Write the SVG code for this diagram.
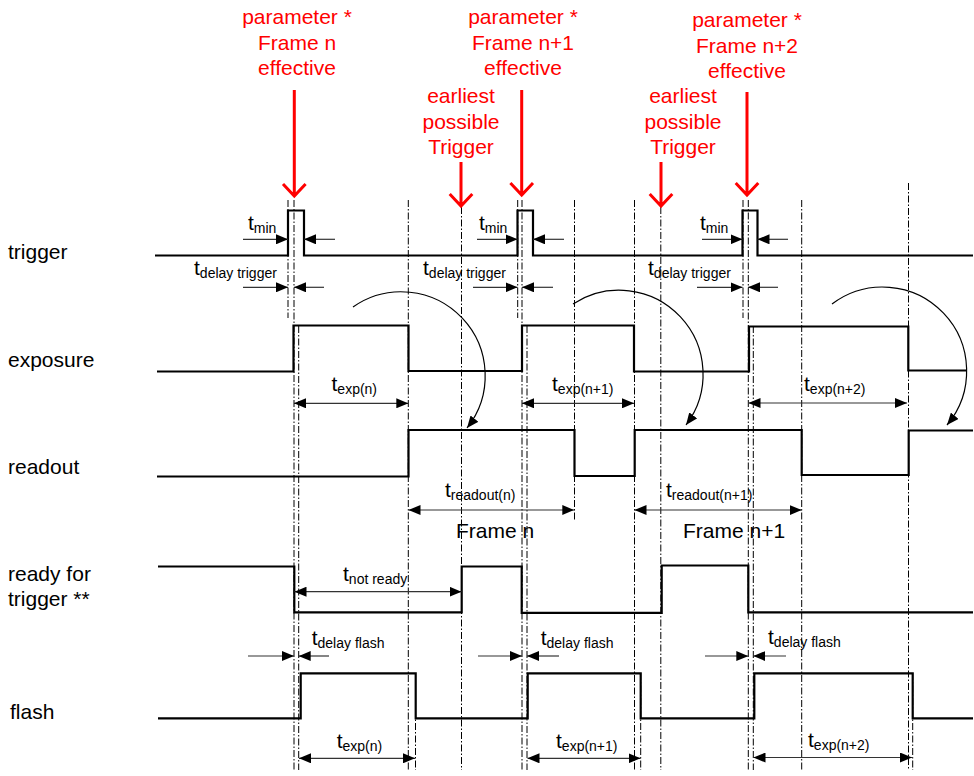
<svg xmlns="http://www.w3.org/2000/svg" width="974" height="776" viewBox="0 0 974 776">
<style>
text{font-family:"Liberation Sans",Arial,Helvetica,sans-serif;fill:#000}
.lbl{font-size:21px}
.red{font-size:21px;fill:#ff0000;text-anchor:middle}
.sub{font-size:14px}
.sig{fill:none;stroke:#000;stroke-width:2.2;stroke-linejoin:miter}
.dd{fill:none;stroke:#000;stroke-width:1;stroke-dasharray:7 2 1.5 2}
.dim{fill:none;stroke:#333;stroke-width:1.2}
.arc{fill:none;stroke:#000;stroke-width:1.2}
.ra{fill:none;stroke:#ff0000;stroke-width:3}
</style>
<defs>
<marker id="ah" viewBox="0 0 12 10" refX="12" refY="5" markerWidth="12" markerHeight="10" markerUnits="userSpaceOnUse" orient="auto-start-reverse">
<path d="M0,0 L12,5 L0,10 z" fill="#000"/>
</marker>
</defs>
<rect width="974" height="776" fill="#fff"/>

<g id="guides">
<path class="dd" d="M288,200V318 M294,200V770 M298.7,326V770 M408.3,200V770 M415.5,673V770 M461.5,207V770 M517.7,200V318 M522,200V770 M527,326V770 M574.5,200V520 M634.5,200V770 M640.7,673V770 M660.8,207V770 M743,200V318 M748.3,200V770 M753.3,326V770 M801.7,200V770 M908.5,183V770 M912.7,673V770"/>
</g>

<g id="labels-left">
<text class="lbl" x="8" y="259">trigger</text>
<text class="lbl" x="8" y="367">exposure</text>
<text class="lbl" x="8" y="474">readout</text>
<text class="lbl" x="8" y="581">ready for</text>
<text class="lbl" x="8" y="606">trigger **</text>
<text class="lbl" x="10" y="719">flash</text>
</g>

<g id="signal-trigger"><path class="sig" d="M155,255.5H288V210.5H304V255.5H517.5V210.5H533V255.5H742.5V210.5H757.5V255.5H973"/></g>
<g id="signal-exposure"><path class="sig" d="M157,371.5H293.5V325.5H408.5V371H522V325.5H634V371.5H749V326.5H908.3V370.5H967"/></g>
<g id="signal-readout"><path class="sig" d="M157,476.5H408.5V430H574.5V476H634.7V430H801.7V475H908.7V430.5H973"/></g>
<g id="signal-ready"><path class="sig" d="M158,566.5H294.3V612.3H461.7V566.5H521.7V612.8H661.7V565.5H748.3V612.3H973"/></g>
<g id="signal-flash"><path class="sig" d="M158,718.3H300.7V673.3H415.7V718.3H527.7V673.3H640.7V718.3H754.3V673.3H912.7V718.3H973"/></g>

<g id="red-annotations">
<text class="red" x="297" y="24">parameter *</text>
<text class="red" x="297" y="49.5">Frame n</text>
<text class="red" x="297" y="74.5">effective</text>
<text class="red" x="523" y="24">parameter *</text>
<text class="red" x="523" y="49.5">Frame n+1</text>
<text class="red" x="523" y="74.5">effective</text>
<text class="red" x="747" y="27">parameter *</text>
<text class="red" x="747" y="52.5">Frame n+2</text>
<text class="red" x="747" y="77.5">effective</text>
<text class="red" x="461" y="103">earliest</text>
<text class="red" x="461" y="128.5">possible</text>
<text class="red" x="461" y="154">Trigger</text>
<text class="red" x="683" y="103">earliest</text>
<text class="red" x="683" y="128.5">possible</text>
<text class="red" x="683" y="154">Trigger</text>
<path class="ra" d="M294.3,90V196 M283,184L294.3,196L305.6,184"/>
<path class="ra" d="M521.7,90V195 M510.4,183L521.7,195L533,183"/>
<path class="ra" d="M747,92V195 M735.7,183L747,195L758.3,183"/>
<path class="ra" d="M461,162V206 M449.7,194L461,206L472.3,194"/>
<path class="ra" d="M661,162V206 M649.7,194L661,206L672.3,194"/>
</g>

<g id="connectors">
<path class="arc" d="M353,307A84,84 0 0 1 467,428" marker-end="url(#ah)"/>
<path class="arc" d="M573,304A84,84 0 0 1 686,425" marker-end="url(#ah)"/>
<path class="arc" d="M832,304A84,84 0 0 1 947,425" marker-end="url(#ah)"/>

<path class="dim" d="M243,239.3H288" marker-end="url(#ah)"/>
<path class="dim" d="M335,239.3H304" marker-end="url(#ah)"/>
<path class="dim" d="M243,287.3H288" marker-end="url(#ah)"/>
<path class="dim" d="M324,287.3H294" marker-end="url(#ah)"/>
<path class="dim" d="M477,239.3H517.5" marker-end="url(#ah)"/>
<path class="dim" d="M564,239.3H533" marker-end="url(#ah)"/>
<path class="dim" d="M473,287.3H517.5" marker-end="url(#ah)"/>
<path class="dim" d="M553,287.3H522" marker-end="url(#ah)"/>
<path class="dim" d="M702,239.3H742.5" marker-end="url(#ah)"/>
<path class="dim" d="M788,239.3H757.5" marker-end="url(#ah)"/>
<path class="dim" d="M697,287.3H742.5" marker-end="url(#ah)"/>
<path class="dim" d="M778,287.3H748" marker-end="url(#ah)"/>

<path class="dim" d="M294,403.3H408.3" marker-start="url(#ah)" marker-end="url(#ah)"/>
<path class="dim" d="M522,403.3H634" marker-start="url(#ah)" marker-end="url(#ah)"/>
<path class="dim" d="M748.5,403H907" marker-start="url(#ah)" marker-end="url(#ah)"/>
<path class="dim" d="M408.5,510H574.3" marker-start="url(#ah)" marker-end="url(#ah)"/>
<path class="dim" d="M634.5,510H801.7" marker-start="url(#ah)" marker-end="url(#ah)"/>
<path class="dim" d="M294.5,591.7H461.5" marker-start="url(#ah)" marker-end="url(#ah)"/>

<path class="dim" d="M248,656H294" marker-end="url(#ah)"/>
<path class="dim" d="M329,656H298.7" marker-end="url(#ah)"/>
<path class="dim" d="M478,656H522" marker-end="url(#ah)"/>
<path class="dim" d="M559,656H527" marker-end="url(#ah)"/>
<path class="dim" d="M705,656H748.3" marker-end="url(#ah)"/>
<path class="dim" d="M786,656H753.3" marker-end="url(#ah)"/>

<path class="dim" d="M299,758.3H415" marker-start="url(#ah)" marker-end="url(#ah)"/>
<path class="dim" d="M527.5,758.3H640.5" marker-start="url(#ah)" marker-end="url(#ah)"/>
<path class="dim" d="M753.5,757.5H912" marker-start="url(#ah)" marker-end="url(#ah)"/>
</g>

<g id="dimension-labels">
<text class="lbl" x="248" y="230">t<tspan class="sub" dy="3">min</tspan></text>
<text class="lbl" x="479" y="230">t<tspan class="sub" dy="3">min</tspan></text>
<text class="lbl" x="700" y="230">t<tspan class="sub" dy="3">min</tspan></text>
<text class="lbl" x="194" y="275">t<tspan class="sub" dy="3">delay trigger</tspan></text>
<text class="lbl" x="423" y="275">t<tspan class="sub" dy="3">delay trigger</tspan></text>
<text class="lbl" x="648" y="275">t<tspan class="sub" dy="3">delay trigger</tspan></text>
<text class="lbl" x="331.5" y="391">t<tspan class="sub" dy="3">exp(n)</tspan></text>
<text class="lbl" x="552" y="391">t<tspan class="sub" dy="3">exp(n+1)</tspan></text>
<text class="lbl" x="804" y="391">t<tspan class="sub" dy="3">exp(n+2)</tspan></text>
<text class="lbl" x="445" y="497">t<tspan class="sub" dy="3">readout(n)</tspan></text>
<text class="lbl" x="666" y="497">t<tspan class="sub" dy="3">readout(n+1)</tspan></text>
<text class="lbl" x="456" y="538">Frame n</text>
<text class="lbl" x="683" y="538">Frame n+1</text>
<text class="lbl" x="343" y="581">t<tspan class="sub" dy="3">not ready</tspan></text>
<text class="lbl" x="311.7" y="645">t<tspan class="sub" dy="3">delay flash</tspan></text>
<text class="lbl" x="540.7" y="645">t<tspan class="sub" dy="3">delay flash</tspan></text>
<text class="lbl" x="768" y="644">t<tspan class="sub" dy="3">delay flash</tspan></text>
<text class="lbl" x="336.7" y="748">t<tspan class="sub" dy="3">exp(n)</tspan></text>
<text class="lbl" x="556" y="748">t<tspan class="sub" dy="3">exp(n+1)</tspan></text>
<text class="lbl" x="808" y="747">t<tspan class="sub" dy="3">exp(n+2)</tspan></text>
</g>
</svg>
